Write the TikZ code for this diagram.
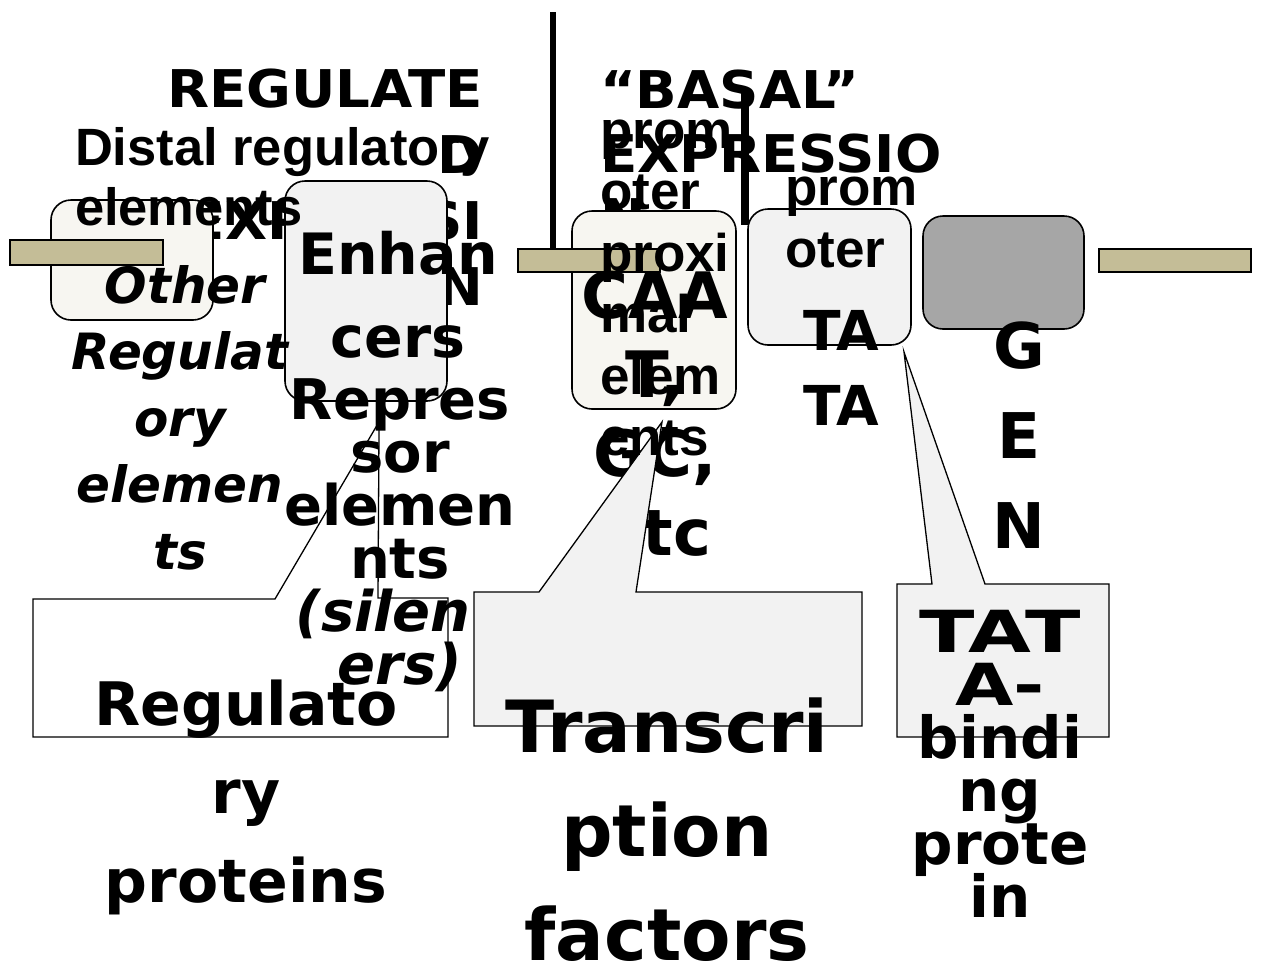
\documentclass[tikz,border=0pt]{standalone}
\usepackage{graphicx}
\usepackage{fontspec}
\setmainfont{DejaVu Sans}
\newfontfamily\arialf{Liberation Sans}
\newfontfamily\headf{DejaVu Sans}[FakeStretch=1.05]
\definecolor{tanbar}{RGB}{196,189,151}
\definecolor{offwhite}{RGB}{247,246,241}
\definecolor{lgray}{RGB}{242,242,242}
\definecolor{mgray}{RGB}{166,166,166}
\newcommand\textrows[6]{%
  \foreach \t [count=\i] in {#6} {
    \node[row, #5] (#1\i) at (#2, {#3+(\i-1)*#4}) {\t};
  }%
}
\begin{document}
\begin{tikzpicture}[x=1pt,y=-1pt,
  row/.style={inner sep=0pt, outer sep=0pt, text=black},
  box/.style={draw=black, line width=1.6pt, rounded corners=20pt, inner sep=0pt},
  bar/.style={draw=black, line width=1.6pt, fill=tanbar, inner sep=0pt},
  vline/.style={line width=6.5pt, black},
  callout/.style={draw=black, line width=1.3pt, line join=miter},
  tHeadL/.style={anchor=base east, font=\headf\fontsize{52}{52}\selectfont\bfseries},
  tHeadR/.style={anchor=base west, font=\headf\fontsize{52}{52}\selectfont\bfseries},
  tDist/.style={anchor=base west, font=\arialf\fontsize{52.5}{52}\selectfont\bfseries},
  tOther/.style={anchor=base, font=\fontsize{50}{50}\selectfont\bfseries\itshape},
  tEnh/.style={anchor=base, font=\fontsize{57}{57}\selectfont\bfseries},
  tRep/.style={anchor=base, font=\fontsize{56}{56}\selectfont\bfseries},
  tCaat/.style={anchor=base, font=\fontsize{64}{64}\selectfont\bfseries},
  tProx/.style={anchor=base west, font=\arialf\fontsize{53}{53}\selectfont\bfseries},
  tTA/.style={anchor=base, font=\fontsize{55}{55}\selectfont\bfseries},
  tGene/.style={anchor=base, font=\fontsize{63}{63}\selectfont\bfseries},
  tRP/.style={anchor=base, font=\fontsize{60}{60}\selectfont\bfseries},
  tTF/.style={anchor=base, font=\fontsize{72}{72}\selectfont\bfseries},
  tTBP/.style={anchor=base, font=\fontsize{58}{58}\selectfont\bfseries}
]
\useasboundingbox[fill=white] (0,0) rectangle (1262,967);

% divider line
\coordinate (v1top) at (553,12);
\coordinate (v1bot) at (553,249);
\draw[vline] (v1top) -- (v1bot);

% headings
\textrows{hdL}{483}{107}{66}{tHeadL}{REGULATE,D,EXPRESSI,ON}
\textrows{hdR}{600}{108}{64}{tHeadR}{“BASAL”,EXPRESSIO,N}

% boxes
\node[box, fill=offwhite, minimum width=162pt, minimum height=120pt] (boxA) at (132,260) {};
\node[box, fill=lgray, minimum width=162pt, minimum height=220pt] (boxB) at (366,291) {};
\node[box, fill=offwhite, minimum width=164pt, minimum height=198pt] (boxC) at (654,310) {};
\node[box, fill=lgray, minimum width=163pt, minimum height=136pt] (boxD) at (829.5,277) {};
\node[box, fill=mgray, minimum width=161pt, minimum height=113pt] (boxE) at (1003.5,272.5) {};

% DNA bars
\node[bar, minimum width=153pt, minimum height=25pt] (bar1) at (86.5,252.5) {};
\node[bar, minimum width=142pt, minimum height=23pt] (bar2) at (589,260.5) {};
\node[bar, minimum width=152pt, minimum height=23pt] (bar3) at (1175,260.5) {};

% second divider
\coordinate (v2top) at (745,93);
\coordinate (v2bot) at (745,225);
\draw[line width=8pt] (v2top) -- (v2bot);

% texts under callouts
\textrows{dist}{75}{165}{60}{tDist}{Distal regulatory,elements}
\textrows{oth}{180}{303}{66.5}{tOther}{{Other\hspace*{-10pt}},Regulat,ory,elemen,ts}
\textrows{enh}{398}{274}{83}{tEnh}{Enhan,cers}
\textrows{caat}{655}{318}{79}{tCaat}{CAA,{T,},{GC,},etc}
\textrows{gene}{1019}{368}{90}{tGene}{G,E,N,E}

% callouts
\draw[callout, fill=white] (33,599) -- (275,599) -- (376,427) -- (379,428) -- (378,598) -- (448,598) -- (448,737) -- (33,737) -- cycle;
\draw[callout, fill=lgray] (474,592) -- (539,592) -- (662,422) -- (636,592) -- (862,592) -- (862,726) -- (474,726) -- cycle;
\draw[callout, fill=lgray] (897,584) -- (932,584) -- (904,352) -- (985,584) -- (1109,584) -- (1109,737) -- (897,737) -- cycle;

% texts on top
\textrows{rep}{400}{419}{53}{tRep}{Repres,sor,elemen,nts,{\itshape (silen\hspace*{34pt}},{\itshape ers)}}
\textrows{prox}{600}{148}{61.5}{tProx}{prom,oter,proxi,mal,elem,ents}
\textrows{prom}{785}{205}{62}{tProx}{prom,oter}
\textrows{ta}{841}{350}{75}{tTA}{TA,TA}
\textrows{rp}{246}{725}{88.5}{tRP}{Regulato,ry,proteins}
\textrows{tf}{667}{752}{104}{tTF}{Transcri,ption,factors}
\textrows{tbp}{1000}{652}{53}{tTBP}{{\scalebox{1.4}[1]{TAT}},{\scalebox{1.3}[1]{A-}},bindi,ng,prote,in}
\end{tikzpicture}
\end{document}
